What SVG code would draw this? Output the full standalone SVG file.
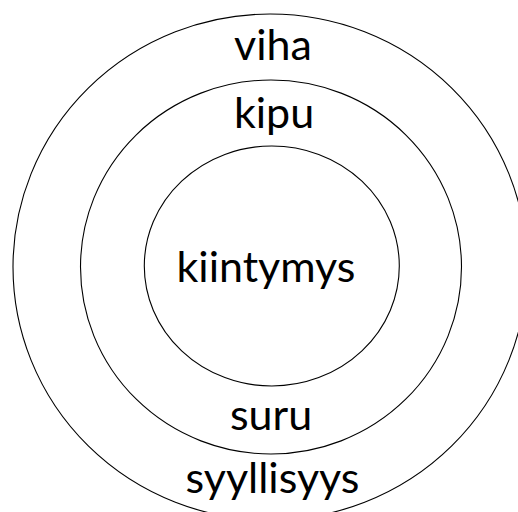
<svg xmlns="http://www.w3.org/2000/svg" width="518" height="512" viewBox="0 0 518 512">
<style>
.ring{fill:none;stroke:#000;stroke-width:1.1}
.lbl{font-family:"Lato","Open Sans",sans-serif;font-size:43px;fill:#000;text-anchor:middle}
</style>
<rect width="518" height="512" fill="#fff"/>
<g id="outer">
<ellipse class="ring" cx="270" cy="267" rx="257" ry="253"/>
<text class="lbl" x="273" y="60">viha</text>
<text class="lbl" x="272.5" y="493">syyllisyys</text>
</g>
<g id="middle">
<ellipse class="ring" cx="271" cy="267" rx="190.5" ry="187"/>
<text class="lbl" x="274" y="128">kipu</text>
<text class="lbl" x="271" y="430">suru</text>
</g>
<g id="inner">
<ellipse class="ring" cx="271.8" cy="266" rx="127.5" ry="120"/>
<text class="lbl" x="266" y="282">kiintymys</text>
</g>
<g id="connectors"/>
</svg>
